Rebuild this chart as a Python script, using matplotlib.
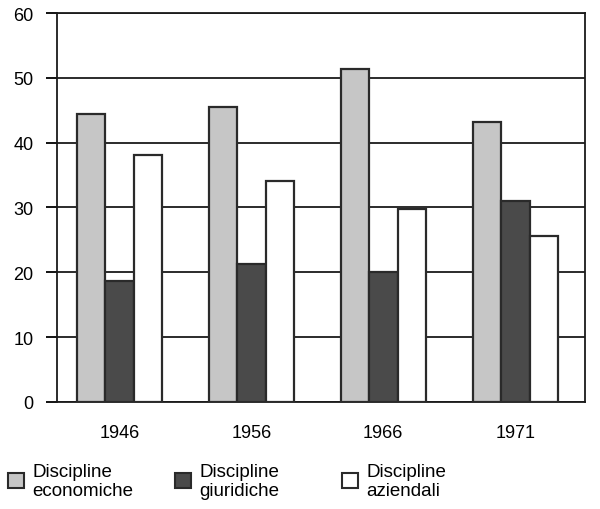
import numpy as np
import matplotlib.pyplot as plt
from matplotlib.patches import Patch

plt.rcParams['font.family'] = ['Liberation Sans', 'DejaVu Sans']

anni = ['1946', '1956', '1966', '1971']
economiche = [44.4, 45.5, 51.4, 43.2]
giuridiche = [18.6, 21.3, 20.1, 31.0]
aziendali = [38.1, 34.1, 29.8, 25.6]
etichette = ['Discipline\neconomiche', 'Discipline\ngiuridiche', 'Discipline\naziendali']
colori = ['#c6c6c6', '#4a4a4a', '#ffffff']

fig = plt.figure(figsize=(6, 5.1), dpi=100)
ax = fig.add_axes([0.095, 0.21, 0.88, 0.7625])

x = np.arange(len(anni))
w = 0.216
off = 0.012
serie = [economiche, giuridiche, aziendali]
for k, (vals, col) in enumerate(zip(serie, colori)):
    ax.bar(x + off + (k - 1) * w, vals, w, color=col, edgecolor='#2a2a2a',
           linewidth=1.6, zorder=3)

ax.set_ylim(0, 60)
ax.set_xlim(-0.46, 3.54)
ax.set_yticks(range(0, 61, 10))
ax.set_xticks(x + off)
ax.set_xticklabels(anni)
ax.yaxis.grid(True, color='#1a1a1a', linewidth=1.3, zorder=0)
ax.set_axisbelow(True)
ax.tick_params(axis='y', length=8, width=1.3, direction='out', labelsize=13, pad=9)
ax.tick_params(axis='x', length=0, labelsize=13, pad=16)
for s in ax.spines.values():
    s.set_linewidth(1.3)
    s.set_color('#1a1a1a')

xs = [0.013, 0.292, 0.57]
for lab, col, xp in zip(etichette, colori, xs):
    fig.legend(handles=[Patch(facecolor=col, edgecolor='#2a2a2a', linewidth=1.5)],
               labels=[lab], loc='center left', bbox_to_anchor=(xp, 0.055),
               frameon=False, fontsize=13.5, handlelength=0.85, handleheight=0.85,
               handletextpad=0.45, labelspacing=0, borderpad=0, borderaxespad=0)

fig.savefig('out.png', dpi=100)
